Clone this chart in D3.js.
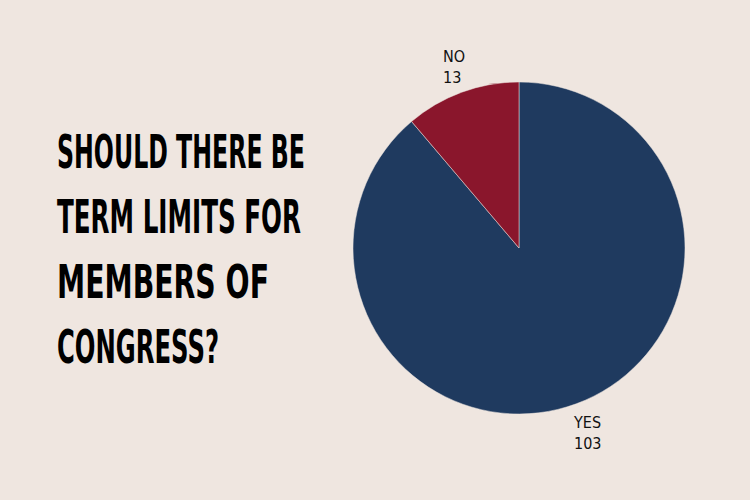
<!DOCTYPE html>
<html><head><meta charset="utf-8">
<script src="https://cdn.jsdelivr.net/npm/d3@7"></script>
<style>body{margin:0;background:#efe6e0;}</style>
</head><body><div class="board"></div>
<script>
var width = 750, height = 500;
var labels = ["YES", "NO"];
var values = [103, 13];
var colors = ["#1f3a5f", "#8a162c"];
var titleLines = ["SHOULD THERE BE", "TERM LIMITS FOR", "MEMBERS OF", "CONGRESS?"];
var titleWidths = [248, 244, 212, 162];

var svg = d3.select(".board").append("svg")
  .attr("width", width).attr("height", height);
svg.append("rect").attr("width", width).attr("height", height).attr("fill", "#efe6e0");

// title
svg.selectAll("text.title").data(titleLines).enter().append("text")
  .attr("class", "title")
  .attr("x", 57)
  .attr("y", function(d, i){ return 168 + i * 65; })
  .attr("textLength", function(d, i){ return titleWidths[i]; })
  .attr("lengthAdjust", "spacingAndGlyphs")
  .style("font-family", "'DejaVu Sans Condensed', sans-serif")
  .style("font-weight", "bold")
  .style("font-size", "46px")
  .attr("fill", "#000")
  .text(function(d){ return d; });

var cx = 519, cy = 248, r = 166;
var pie = d3.pie().sort(null);
var arc = d3.arc().innerRadius(0).outerRadius(r);
var g = svg.append("g").attr("transform", "translate(" + cx + "," + cy + ")");
var arcs = pie(values);
g.selectAll("path").data(arcs).enter().append("path")
  .attr("d", arc)
  .attr("fill", function(d, i){ return colors[i]; })
  .attr("stroke", "#efe6e0").attr("stroke-width", 0.5);

// labels outside
var offs = [[55, 180], [-76, -186]];
arcs.forEach(function(d, i){
  var p = [offs[i][0] + cx, offs[i][1] + cy];
  var t = svg.append("text")
    .attr("x", p[0]).attr("y", p[1])
    .style("font-family", "'DejaVu Sans Condensed', sans-serif")
    .style("font-size", "16px").attr("fill", "#111");
  t.append("tspan").attr("x", p[0]).text(labels[i]);
  t.append("tspan").attr("x", p[0]).attr("dy", 21).text(values[i]);
});
</script></body></html>
